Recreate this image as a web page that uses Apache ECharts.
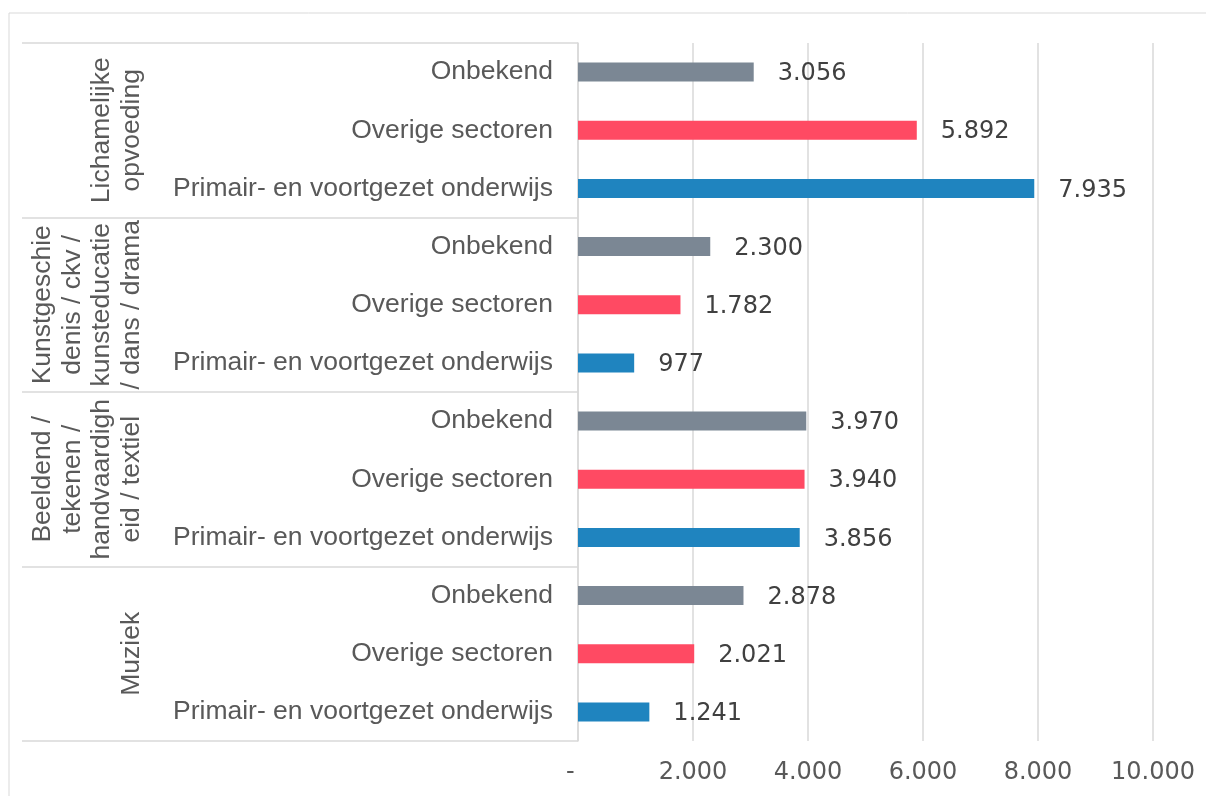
<!DOCTYPE html>
<html>
<head>
<meta charset="utf-8">
<script src="https://cdn.jsdelivr.net/npm/echarts@6/dist/echarts.min.js"></script>
<style>
  html, body { margin: 0; padding: 0; background: #fff; }
  #main { width: 1206px; height: 796px; }
</style>
</head>
<body>
<div id="main"></div>
<script>
// groups (top to bottom) and the three sectors inside each group
var groups = [
  'Lichamelijke\nopvoeding',
  'Kunstgeschie\ndenis / ckv /\nkunsteducatie\n/ dans / drama',
  'Beeldend /\ntekenen /\nhandvaardigh\neid / textiel',
  'Muziek'
];
var sectors = ['Onbekend', 'Overige sectoren', 'Primair- en voortgezet onderwijs'];
var sectorColors = ['#7b8794', '#ff4a63', '#1f84bf'];

var onbekend = [3056, 2300, 3970, 2878];
var overige = [5892, 1782, 3940, 2021];
var primair = [7935, 977, 3856, 1241];

var xTicks = [0, 2000, 4000, 6000, 8000, 10000];

function fmt(n) {
  return String(n).replace(/\B(?=(\d{3})+(?!\d))/g, '.');
}

var categories = [];
var values = [];
var bySector = [onbekend, overige, primair];
for (var g = 0; g < groups.length; g++) {
  for (var s = 0; s < sectors.length; s++) {
    categories.push(sectors[s]);
    values.push({ value: bySector[s][g], itemStyle: { color: sectorColors[s] } });
  }
}

var chart = echarts.init(document.getElementById('main'));
var option = {
  animation: false,
  graphic: [{
    type: 'rect',
    shape: { x: 9, y: 13, width: 1300, height: 900 },
    style: { fill: 'none', stroke: '#d9d9d9', lineWidth: 1 }
  }],
  grid: { left: 578, right: 53, top: 43, bottom: 55 },
  xAxis: {
    type: 'value',
    min: xTicks[0],
    max: xTicks[xTicks.length - 1],
    interval: 2000,
    axisLine: { show: false },
    axisTick: { show: false },
    splitLine: { show: true, lineStyle: { color: '#d9d9d9', width: 1.5 } },
    axisLabel: {
      margin: 20,
      fontFamily: 'DejaVu Sans',
      fontSize: 24,
      color: '#595959',
      formatter: function (v) { return v === 0 ? '-  ' : fmt(v); }
    }
  },
  yAxis: [{
    type: 'category',
    data: categories,
    inverse: true,
    axisLine: { show: false },
    axisTick: { show: false },
    axisLabel: {
      margin: 25,
      fontFamily: 'Liberation Sans',
      fontSize: 26.5,
      color: '#595959'
    }
  }, {
    type: 'category',
    data: groups,
    inverse: true,
    position: 'left',
    offset: 0,
    axisLine: { show: true, lineStyle: { color: '#d9d9d9', width: 1.5 } },
    axisTick: { show: true, interval: 0, length: 556, lineStyle: { color: '#d9d9d9', width: 1.5 } },
    axisLabel: {
      rotate: 90,
      interval: 0,
      margin: 432,
      fontFamily: 'Liberation Sans',
      fontSize: 26.5,
      lineHeight: 29.5,
      color: '#595959'
    }
  }],
  series: [{
    type: 'bar',
    yAxisIndex: 0,
    data: values,
    barWidth: 19,
    label: {
      show: true,
      position: 'right',
      distance: 24,
      offset: [0, 2],
      fontFamily: 'DejaVu Sans',
      fontSize: 24,
      color: '#404040',
      formatter: function (p) { return fmt(p.value); }
    }
  }]
};
chart.setOption(option);
</script>
</body>
</html>
